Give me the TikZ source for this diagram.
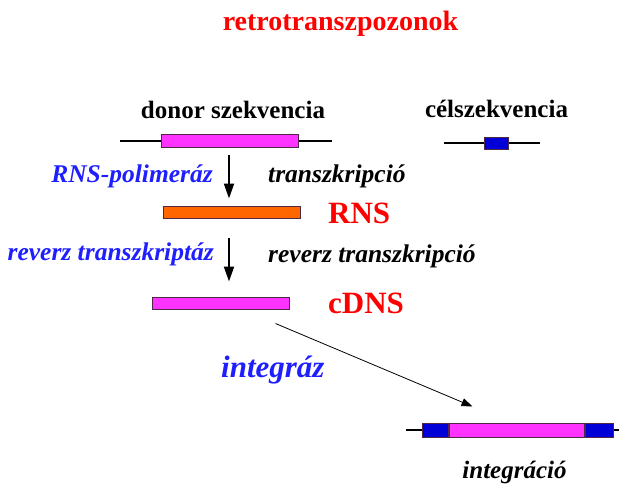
\documentclass[tikz,border=0pt]{standalone}
\usepackage{fontspec}
\setmainfont{Liberation Serif}
\usepackage{tikz}
\usetikzlibrary{positioning,arrows.meta}

\definecolor{seqpink}{RGB}{255,51,255}
\definecolor{rnsorange}{RGB}{255,102,0}
\definecolor{seqblue}{RGB}{0,0,215}
\definecolor{enzblue}{RGB}{30,30,255}
\definecolor{boxedge}{RGB}{80,40,70}

\begin{document}
\begin{tikzpicture}[x=1pt, y=-1pt,
    seqbox/.style={draw=boxedge, line width=1pt, rectangle, inner sep=0pt, minimum height=12pt},
    dnaline/.style={line width=2pt},
    bigarrow/.style={line width=2pt, -{Triangle[length=15pt,width=10pt]}},
    thinarrow/.style={line width=0.8pt, -{Triangle[length=11pt,width=8pt]}},
    txt/.style={inner sep=0pt, font=\bfseries\fontsize{25}{28}\selectfont},
    itxt/.style={inner sep=0pt, font=\bfseries\itshape\fontsize{25.5}{28}\selectfont},
    bigtxt/.style={inner sep=0pt, font=\bfseries\fontsize{31}{34}\selectfont}]
    \useasboundingbox (0,0) rectangle (626,498);

    \node[txt, anchor=base, text=red, font=\bfseries\fontsize{28}{30}\selectfont] (title) at (340.5,30) {retrotranszpozonok};

    % kiindulo szekvenciak
    \node[txt, anchor=base] (donor) at (233,118) {donor szekvencia};
    \node[txt, anchor=base] (cel) at (496.5,117) {célszekvencia};

    \coordinate (donorL) at (120,141);
    \coordinate (donorR) at (332,141);
    \draw[dnaline] (donorL) -- (donorR);
    \node[seqbox, fill=seqpink, minimum width=137pt, minimum height=13pt] (donorbox) at (230,141) {};

    \coordinate (celL) at (444,143);
    \coordinate (celR) at (540,143);
    \draw[dnaline] (celL) -- (celR);
    \node[seqbox, fill=seqblue, minimum width=24pt] (celbox) at (496,143) {};

    % atiras
    \node[seqbox, fill=rnsorange, minimum width=137pt] (rnsbox) at (231.5,212) {};
    \node[bigtxt, anchor=base west, text=red] (rns) at (328,223) {RNS};
    \node[itxt, anchor=base east, text=enzblue] (polim) at (213,182) {RNS-polimeráz};
    \node[itxt, anchor=base west] (transz) at (268,182) {transzkripció};
    \draw[bigarrow] ([xshift=-1pt,yshift=-7pt]donorbox.south) -- ([xshift=-1pt,yshift=7pt]donorbox.south |- rnsbox.north);

    % forditott atiras
    \node[seqbox, fill=seqpink, minimum width=137pt] (cdnsbox) at (220.5,303) {};
    \node[bigtxt, anchor=base west, text=red] (cdns) at (328,313) {cDNS};
    \node[itxt, anchor=base east, text=enzblue] (revtr) at (214,260) {reverz transzkriptáz};
    \node[itxt, anchor=base west] (revtrc) at (268,262) {reverz transzkripció};
    \draw[bigarrow] ([xshift=-2.5pt,yshift=-19pt]rnsbox.south) -- ([xshift=-2.5pt,yshift=15pt]rnsbox.south |- cdnsbox.north);

    % beepules
    \node[inner sep=0pt, anchor=base west, text=enzblue, font=\bfseries\itshape\fontsize{31}{34}\selectfont] (integraz) at (221,377) {integráz};

    \coordinate (intL) at (406,430);
    \coordinate (intR) at (619,430);
    \draw[dnaline] (intL) -- (intR);
    \node[seqbox, fill=seqpink, minimum width=135pt, minimum height=14pt] (intmid) at (516.5,430) {};
    \node[seqbox, fill=seqblue, minimum width=26pt, minimum height=14pt, left=0pt of intmid] (intleft) {};
    \node[seqbox, fill=seqblue, minimum width=28pt, minimum height=14pt, right=0pt of intmid] (intright) {};
    \node[itxt, anchor=base, font=\bfseries\itshape\fontsize{25}{28}\selectfont] (integracio) at (514.5,478) {integráció};

    \draw[thinarrow] ([xshift=-14pt,yshift=-14pt]cdnsbox.south east) -- ([xshift=24pt,yshift=16pt]intmid.north west);
\end{tikzpicture}
\end{document}
